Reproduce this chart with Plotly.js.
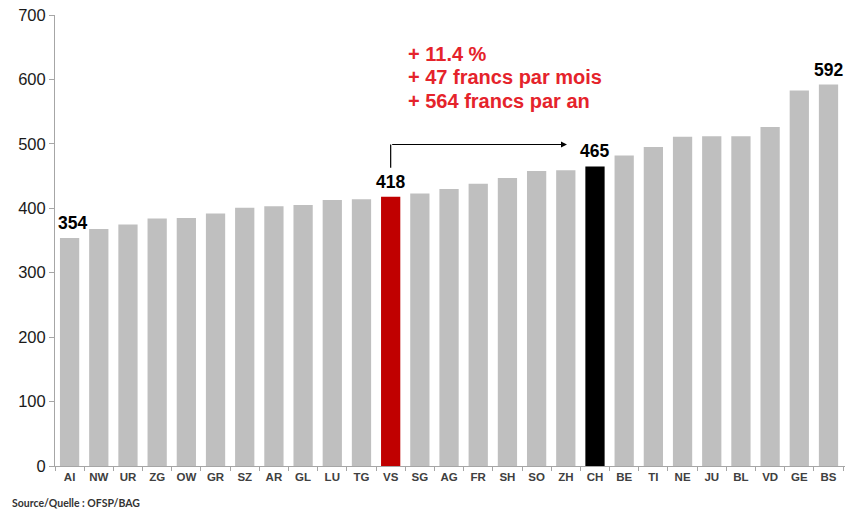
<!DOCTYPE html>
<html>
<head>
<meta charset="utf-8">
<script src="https://cdn.plot.ly/plotly-3.0.1.min.js"></script>
<style>html,body{margin:0;padding:0;background:#fff;}#chart{width:848px;height:511px;}</style>
</head>
<body>
<div id="chart"></div>
<script>
const cantons = ["AI","NW","UR","ZG","OW","GR","SZ","AR","GL","LU","TG","VS","SG","AG","FR","SH","SO","ZH","CH","BE","TI","NE","JU","BL","VD","GE","BS"];
const premiums = [354,368,375,384,385,392,401,403,405,413,414,418,423,430,438,447,458,459,465,482,495,511,512,512,526,583,592];
const labelled = ["AI","VS","CH","BS"];
const highlightColors = {VS: "#c00000", CH: "#000000"};
const noteLines = ["+ 11.4 %", "+ 47 francs par mois", "+ 564 francs par an"];
const sourceText = "Source/Quelle : OFSP/BAG";

const colors = cantons.map(c => highlightColors[c] || "#bfbfbf");

const trace = {
  type: "bar",
  x: cantons,
  y: premiums,
  marker: {color: colors, line: {width: 0}},
  hoverinfo: "x+y"
};

const annotations = labelled.map(c => {
  const i = cantons.indexOf(c);
  return {
    x: c, y: premiums[i], xref: "x", yref: "y",
    text: String(premiums[i]), showarrow: false,
    yanchor: "bottom", yshift: 3, xshift: c === "AI" ? 3 : 0,
    font: {family: "Arial, Liberation Sans, sans-serif", size: 17.5, color: "#000", weight: "bold"}
  };
});

// red note, one annotation per line (paper coords)
const notePaperY = [0.913, 0.862, 0.810];
noteLines.forEach((t, k) => {
  annotations.push({
    x: 0.4443, y: notePaperY[k], xref: "paper", yref: "paper",
    xanchor: "left", yanchor: "middle", align: "left", showarrow: false,
    text: t,
    font: {family: "Arial, Liberation Sans, sans-serif", size: 20, color: "#e5232b", weight: "bold"}
  });
});

// arrow from VS to CH
const iVS = cantons.indexOf("VS");
const iZH = cantons.indexOf("ZH");
annotations.push({
  x: iZH + 0.04, y: 499, xref: "x", yref: "y",
  ax: iVS, ay: 499, axref: "x", ayref: "y",
  showarrow: true, arrowhead: 2, arrowsize: 1, arrowwidth: 1.2, arrowcolor: "#000",
  text: ""
});

annotations.push({
  x: -0.057, y: -0.082, xref: "paper", yref: "paper",
  xanchor: "left", yanchor: "middle", showarrow: false,
  text: sourceText,
  font: {family: "Lato, Open Sans, sans-serif", size: 10.5, color: "#333", weight: "bold"}
});

const shapes = [{
  type: "line", xref: "x", yref: "y",
  x0: iVS, x1: iVS, y0: 463, y1: 499,
  line: {color: "#000", width: 1.2}
}];

const layout = {
  width: 848, height: 511,
  margin: {l: 55, r: 3, t: 15, b: 45},
  paper_bgcolor: "#fff", plot_bgcolor: "#fff",
  bargap: 0.34,
  showlegend: false,
  xaxis: {
    type: "category",
    showline: true, linecolor: "#a6a6a6", linewidth: 1,
    ticks: "outside", tickson: "boundaries", ticklen: 4, tickcolor: "#a6a6a6",
    tickfont: {family: "Arial, Liberation Sans, sans-serif", size: 11.5, color: "#404040", weight: "bold"},
    showgrid: false, zeroline: false, fixedrange: true
  },
  yaxis: {
    range: [0, 700], dtick: 100, tick0: 0,
    showline: true, linecolor: "#a6a6a6", linewidth: 1,
    ticks: "outside", ticklen: 5, tickcolor: "#a6a6a6",
    tickfont: {family: "Arial, Liberation Sans, sans-serif", size: 16.5, color: "#1a1a1a"},
    showgrid: false, zeroline: false, fixedrange: true
  },
  annotations: annotations,
  shapes: shapes
};

Plotly.newPlot("chart", [trace], layout, {displayModeBar: false, staticPlot: true});
</script>
</body>
</html>
